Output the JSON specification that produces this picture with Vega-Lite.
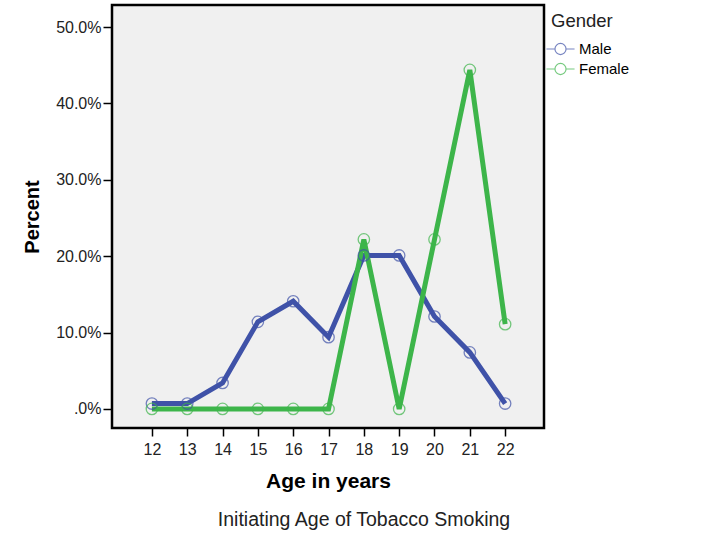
{
  "$schema": "https://vega.github.io/schema/vega-lite/v6.json",
  "width": 432,
  "height": 423,
  "autosize": {"type": "none"},
  "padding": {"left": 112, "top": 5, "right": 184, "bottom": 118},
  "background": "white",
  "config": {
    "font": "Liberation Sans",
    "view": {"fill": "#F0F0F0", "stroke": "black", "strokeWidth": 2.5}
  },
  "title": {
    "text": "Initiating Age of Tobacco Smoking",
    "orient": "bottom",
    "anchor": "middle",
    "fontSize": 19.5,
    "fontWeight": "normal",
    "color": "#222",
    "offset": 20,
    "dx": 36
  },
  "data": {
    "values": [
      {"age": 12, "gender": "Male", "pct": 0.7},
      {"age": 13, "gender": "Male", "pct": 0.7},
      {"age": 14, "gender": "Male", "pct": 3.4},
      {"age": 15, "gender": "Male", "pct": 11.4},
      {"age": 16, "gender": "Male", "pct": 14.1},
      {"age": 17, "gender": "Male", "pct": 9.4},
      {"age": 18, "gender": "Male", "pct": 20.1},
      {"age": 19, "gender": "Male", "pct": 20.1},
      {"age": 20, "gender": "Male", "pct": 12.1},
      {"age": 21, "gender": "Male", "pct": 7.4},
      {"age": 22, "gender": "Male", "pct": 0.7},
      {"age": 12, "gender": "Female", "pct": 0},
      {"age": 13, "gender": "Female", "pct": 0},
      {"age": 14, "gender": "Female", "pct": 0},
      {"age": 15, "gender": "Female", "pct": 0},
      {"age": 16, "gender": "Female", "pct": 0},
      {"age": 17, "gender": "Female", "pct": 0},
      {"age": 18, "gender": "Female", "pct": 22.2},
      {"age": 19, "gender": "Female", "pct": 0},
      {"age": 20, "gender": "Female", "pct": 22.2},
      {"age": 21, "gender": "Female", "pct": 44.4},
      {"age": 22, "gender": "Female", "pct": 11.1}
    ]
  },
  "encoding": {
    "x": {
      "field": "age",
      "type": "quantitative",
      "scale": {"domain": [10.87, 23.1], "nice": false, "zero": false},
      "axis": {
        "values": [12, 13, 14, 15, 16, 17, 18, 19, 20, 21, 22],
        "title": "Age in years",
        "titleFontSize": 21,
        "titleFontWeight": "bold",
        "titleColor": "black",
        "titlePadding": 13,
        "labelFontSize": 16,
        "labelColor": "#222",
        "labelPadding": 5,
        "tickSize": 8,
        "tickColor": "black",
        "tickWidth": 1.5,
        "domain": false,
        "grid": false
      }
    },
    "y": {
      "field": "pct",
      "type": "quantitative",
      "scale": {"domain": [-2.5, 52.9], "nice": false, "zero": false},
      "axis": {
        "values": [0, 10, 20, 30, 40, 50],
        "labelExpr": "datum.value == 0 ? '.0%' : format(datum.value, '.1f') + '%'",
        "title": "Percent",
        "titleFontSize": 20,
        "titleFontWeight": "bold",
        "titleColor": "black",
        "titlePadding": 13,
        "labelFontSize": 16,
        "labelColor": "#222",
        "labelPadding": 2,
        "tickSize": 9,
        "tickColor": "black",
        "tickWidth": 1.5,
        "domain": false,
        "grid": false
      }
    },
    "color": {
      "field": "gender",
      "type": "nominal",
      "sort": ["Male", "Female"],
      "scale": {"domain": ["Male", "Female"], "range": ["#3F52A8", "#3DB54A"]},
      "legend": {
        "title": "Gender",
        "titleFontSize": 18.5,
        "titleFontWeight": "normal",
        "titleColor": "#222",
        "titlePadding": 9,
        "labelFontSize": 15,
        "labelColor": "black",
        "orient": "none",
        "legendX": 439,
        "legendY": 7,
        "padding": 0,
        "rowPadding": 2,
        "labelOffset": 9,
        "symbolType": "M-1.65,0L-0.65,0M0.65,0L1.65,0M0.65,0A0.65,0.65 0 1 1 -0.65,0A0.65,0.65 0 1 1 0.65,0",
        "symbolSize": 290,
        "symbolStrokeWidth": 1.2,
        "symbolFillColor": "transparent"
      }
    }
  },
  "layer": [
    {
      "mark": {"type": "line", "strokeWidth": 5}
    },
    {
      "mark": {"type": "point", "shape": "circle", "filled": false, "size": 130, "strokeWidth": 1.3}
    }
  ]
}
